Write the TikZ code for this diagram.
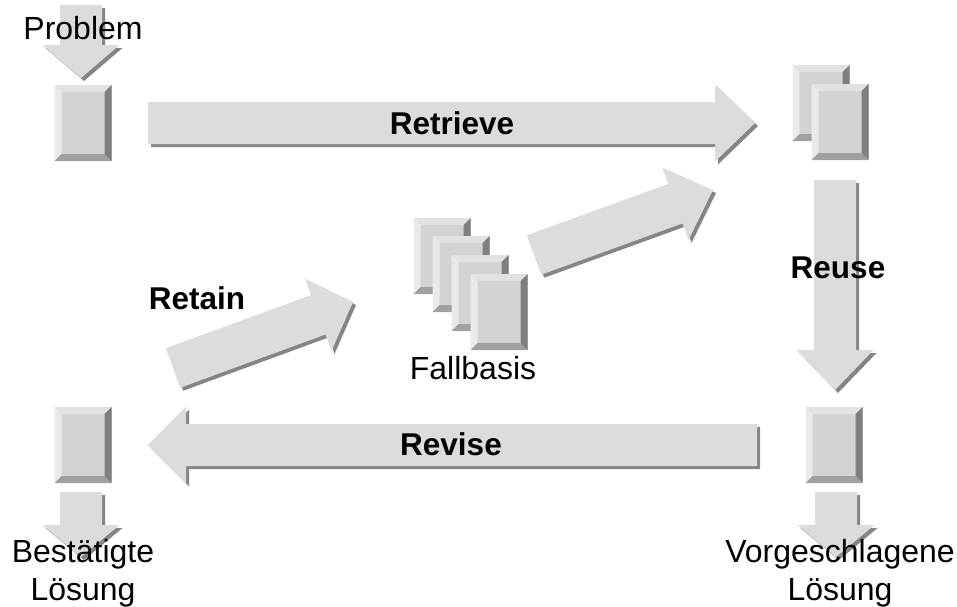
\documentclass[tikz,border=0pt]{standalone}
\usepackage{fontspec}
\setmainfont{Liberation Sans}
\usetikzlibrary{calc,shadows}

\definecolor{pfeil}{HTML}{DCDCDC}
\definecolor{schatten}{HTML}{858585}
\definecolor{kartemitte}{HTML}{D3D3D3}
\definecolor{kanteoben}{HTML}{E2E2E2}
\definecolor{kantelinks}{HTML}{EAEAEA}
\definecolor{kanterechts}{HTML}{7F7F7F}
\definecolor{kanteunten}{HTML}{A0A0A0}

\tikzset{
	karte/.style={inner sep=0pt,minimum width=57pt,minimum height=76pt,fill=kartemitte,
		path picture={
			\fill[kanteoben](path picture bounding box.north west)--(path picture bounding box.north east)--([shift={(-7pt,-7pt)}]path picture bounding box.north east)--([shift={(7pt,-7pt)}]path picture bounding box.north west)--cycle;
			\fill[kantelinks](path picture bounding box.north west)--(path picture bounding box.south west)--([shift={(7pt,7pt)}]path picture bounding box.south west)--([shift={(7pt,-7pt)}]path picture bounding box.north west)--cycle;
			\fill[kanterechts](path picture bounding box.north east)--(path picture bounding box.south east)--([shift={(-7pt,7pt)}]path picture bounding box.south east)--([shift={(-7pt,-7pt)}]path picture bounding box.north east)--cycle;
			\fill[kanteunten](path picture bounding box.south west)--(path picture bounding box.south east)--([shift={(-7pt,7pt)}]path picture bounding box.south east)--([shift={(7pt,7pt)}]path picture bounding box.south west)--cycle;
		}},
	pfeilflaeche/.style={fill=pfeil,drop shadow={shadow xshift=3pt,shadow yshift=-3pt,fill=schatten,opacity=1}},
	marke/.style={font=\fontsize{31.5}{38}\selectfont\bfseries},
	schrift/.style={font=\fontsize{32}{38}\selectfont,align=center}
}

% Blockpfeil von #2 (Ende) nach #3 (Spitze), #1 = Laenge der Spitze
\newcommand\blockpfeil[3][40pt]{%
	\path($(#3)!#1!(#2)$)coordinate(kopf);
	\fill[pfeilflaeche]($(#2)!21pt!90:(#3)$)--($(kopf)!21pt!90:(#3)$)--($(kopf)!38.5pt!90:(#3)$)--(#3)
		--($(kopf)!38.5pt!-90:(#3)$)--($(kopf)!21pt!-90:(#3)$)--($(#2)!21pt!-90:(#3)$)--cycle;
}

\begin{document}
\begin{tikzpicture}[x=1pt,y=-1pt,line join=round]
	\useasboundingbox(0,0)rectangle(957,606);
	\path
	(83,123)coordinate(P)
	(821,103)coordinate(T1)
	(840,122)coordinate(T2)
	(442,256)coordinate(F1)
	(461,274)coordinate(F2)
	(480,293)coordinate(F3)
	(499,312)coordinate(F4)
	(834,445)coordinate(V)
	(83,445)coordinate(B)
	% Enden und Spitzen der Pfeile
	(81,5)coordinate(P0)
	(81,78)coordinate(P1)
	(148,123)coordinate(R0)
	(755,123)coordinate(R1)
	(534,255)coordinate(D0)
	(713,190)coordinate(D1)
	(835,180)coordinate(U0)
	(835,390)coordinate(U1)
	(757,445)coordinate(E0)
	(148,445)coordinate(E1)
	(173,368)coordinate(A0)
	(353,302)coordinate(A1)
	(81,492)coordinate(B0)
	(81,557)coordinate(B1)
	(836,492)coordinate(V0)
	(836,557)coordinate(V1)
	;
	% Pfeile
	\blockpfeil[33pt]{P0}{P1}
	\blockpfeil{R0}{R1}
	\blockpfeil{D0}{D1}
	\blockpfeil{U0}{U1}
	\blockpfeil[38pt]{E0}{E1}
	\blockpfeil[37pt]{A0}{A1}
	\blockpfeil[32pt]{B0}{B1}
	\blockpfeil[32pt]{V0}{V1}
	% Faelle
	\node[karte](problem)at(P){};
	\node[karte](treffer1)at(T1){};
	\node[karte](treffer2)at(T2){};
	\foreach \i in {1,...,4}
	\node[karte](fall\i)at(F\i){};
	\node[karte](vorschlag)at(V){};
	\node[karte](bestaetigt)at(B){};
	% Beschriftungen
	\node[schrift](problemtext)at(83,28){Problem};
	\node[marke](retrieve)at(452,123){Retrieve};
	\node[marke](reuse)at(838,268){Reuse};
	\node[marke](retain)at(197,298){Retain};
	\node[schrift](fallbasis)at(473,368){Fallbasis};
	\node[marke](revise)at(451,444){Revise};
	\node[schrift](bestaetigttext)at(83,573){Bestätigte\\Lösung};
	\node[schrift](vorschlagtext)at(840,573){Vorgeschlagene\\Lösung};
\end{tikzpicture}
\end{document}
